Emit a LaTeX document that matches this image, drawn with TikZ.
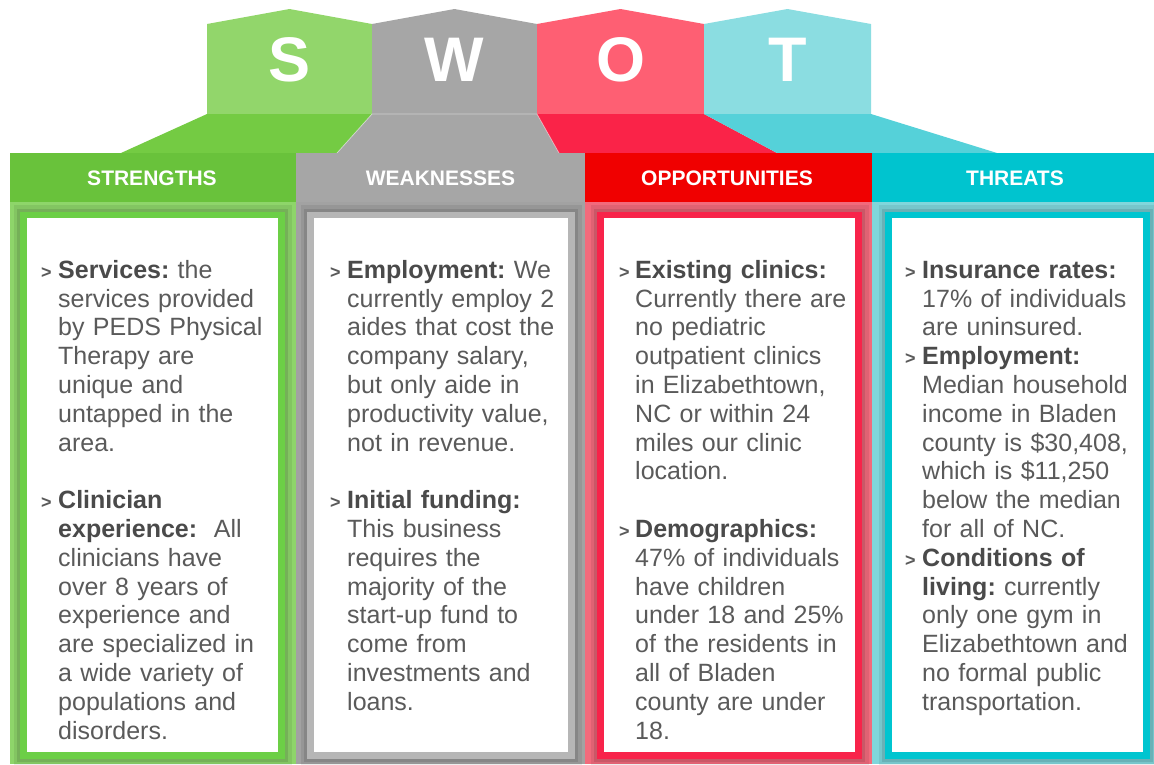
\documentclass[tikz,border=0pt]{standalone}
\usepackage{fontspec}
\setmainfont{Liberation Sans}
\definecolor{sTab}{HTML}{92D66B}
\definecolor{sTrap}{HTML}{74CB43}
\definecolor{sHdr}{HTML}{69C23B}
\definecolor{sTint}{HTML}{8ED56A}
\definecolor{sBord}{HTML}{6CCF46}
\definecolor{wTab}{HTML}{A6A6A6}
\definecolor{wTrap}{HTML}{A6A6A6}
\definecolor{wHdr}{HTML}{A6A6A6}
\definecolor{wTint}{HTML}{A2A2A2}
\definecolor{wBord}{HTML}{B6B6B6}
\definecolor{oTab}{HTML}{FE5F73}
\definecolor{oTrap}{HTML}{FA2348}
\definecolor{oHdr}{HTML}{F00000}
\definecolor{oTint}{HTML}{F26A7C}
\definecolor{oBord}{HTML}{F8234A}
\definecolor{tTab}{HTML}{8BDDE1}
\definecolor{tTrap}{HTML}{55D1D9}
\definecolor{tHdr}{HTML}{00C4CF}
\definecolor{tTint}{HTML}{80D6DB}
\definecolor{tBord}{HTML}{00C5D0}
\definecolor{txt}{HTML}{5A5A5A}
\definecolor{txtb}{HTML}{4A4A4A}
\newcommand\swotb[1]{\textbf{\color{txtb}#1}}
\begin{document}
\begin{tikzpicture}[x=1pt,y=-1pt,
  hdr/.style={font=\fontsize{21}{21}\selectfont\bfseries, text=white, inner sep=0},
  letter/.style={font=\fontsize{63}{63}\selectfont\bfseries, text=white, inner sep=0},
  body/.style={font=\fontsize{25}{28.8}\selectfont\frenchspacing, text=txt, anchor=north west, inner sep=0, text width=265pt, align=left},
  bul/.style={font=\fontsize{18}{18}\selectfont\bfseries, text=txt, anchor=base west, inner sep=0},
]
\useasboundingbox (0,0) rectangle (1154,764);
\fill[white] (0,0) rectangle (1154,764);
% tabs
\fill[sTab] (207,114) -- (207,24) -- (289.5,9) -- (372,24) -- (372,114) -- cycle;
\fill[wTab] (372,114) -- (372,24) -- (454.5,9) -- (537,24) -- (537,114) -- cycle;
\fill[oTab] (537,114) -- (537,24) -- (620.5,9) -- (704,24) -- (704,114) -- cycle;
\fill[tTab] (704,114) -- (704,24) -- (787.5,9) -- (871,24) -- (871,114) -- cycle;
% trapezoids
\fill[sTrap] (207,114) -- (372,114) -- (337,153) -- (121,153) -- cycle;
\fill[wTrap] (372,114) -- (537,114) -- (559,153) -- (337,153) -- cycle;
\fill[oTrap] (537,114) -- (704,114) -- (777,153) -- (559,153) -- cycle;
\fill[tTrap] (704,114) -- (871,114) -- (997,153) -- (777,153) -- cycle;
\draw[white, opacity=0.45, line width=0.8] (337,153) -- (372,114) -- (537,114) -- (559,153);
% panels
\foreach \xa/\xb/\tint/\bord/\wl/\wr in {10/296/sTint/sBord/27/278, 296/585/wTint/wBord/314/568, 585/872/oTint/oBord/604/855, 872/1154/tTint/tBord/892/1143}{
  \fill[\tint] (\xa,202) rectangle (\xb,764);
  \draw[black, opacity=0.07, line width=20] (\wl-3.5,215) rectangle (\wr+3.5,755);
  \draw[black, opacity=0.10, line width=13] (\wl-3.5,215) rectangle (\wr+3.5,755);
  \draw[\bord, line width=7] (\wl-3.5,215) rectangle (\wr+3.5,755);
  \fill[white] (\wl,218) rectangle (\wr,752);
}
% headers
\fill[sHdr] (10,153) rectangle (296,202);
\fill[wHdr] (296,153) rectangle (585,202);
\fill[oHdr] (585,153) rectangle (872,202);
\fill[tHdr] (872,153) rectangle (1154,202);
\node[hdr] (hs) at (152,178) {STRENGTHS};
\node[hdr] (hw) at (440.5,178) {WEAKNESSES};
\node[hdr] (ho) at (727,178) {OPPORTUNITIES};
\node[hdr] (ht) at (1015,178) {THREATS};
% letters
\node[letter] (ls) at (289.5,60) {S};
\node[letter] (lw) at (454.5,60) {W};
\node[letter] (lo) at (620.5,60) {O};
\node[letter] (lt) at (787.5,60) {T};
% S column
\node[bul] (bs1) at (41,278) {>};
\node[body] (s1) at (58,257.84) {\strut\swotb{Services:} the\\services provided\\by PEDS Physical\\Therapy are\\unique and\\untapped in the\\area.};
\node[bul] (bs2) at (41,508.4) {>};
\node[body] (s2) at (58,488.24) {\strut\swotb{Clinician}\\\swotb{experience:}~ All\\clinicians have\\over 8 years of\\experience and\\are specialized in\\a wide variety of\\populations and\\disorders.};
% W column
\node[bul] (bw1) at (330,278) {>};
\node[body] (w1) at (347,257.84) {\strut\swotb{Employment:} We\\currently employ 2\\aides that cost the\\company salary,\\but only aide in\\productivity value,\\not in revenue.};
\node[bul] (bw2) at (330,508.4) {>};
\node[body] (w2) at (347,488.24) {\strut\swotb{Initial funding:}\\This business\\requires the\\majority of the\\start-up fund to\\come from\\investments and\\loans.};
% O column
\node[bul] (bo1) at (619,278) {>};
\node[body] (o1) at (635,257.84) {\strut\swotb{Existing clinics:}\\Currently there are\\no pediatric\\outpatient clinics\\in Elizabethtown,\\NC or within 24\\miles our clinic\\location.};
\node[bul] (bo2) at (619,537.2) {>};
\node[body] (o2) at (635,517.04) {\strut\swotb{Demographics:}\\47\% of individuals\\have children\\under 18 and 25\%\\of the residents in\\all of Bladen\\county are under\\18.};
% T column
\node[bul] (bt1) at (905,278) {>};
\node[body] (t1) at (922,257.84) {\strut\swotb{Insurance rates:}\\17\% of individuals\\are uninsured.};
\node[bul] (bt2) at (905,364.4) {>};
\node[body] (t2) at (922,344.24) {\strut\swotb{Employment:}\\Median household\\income in Bladen\\county is \$30,408,\\which is \$11,250\\below the median\\for all of NC.};
\node[bul] (bt3) at (905,566) {>};
\node[body] (t3) at (922,545.84) {\strut\swotb{Conditions of}\\\swotb{living:} currently\\only one gym in\\Elizabethtown and\\no formal public\\transportation.};
\end{tikzpicture}
\end{document}
